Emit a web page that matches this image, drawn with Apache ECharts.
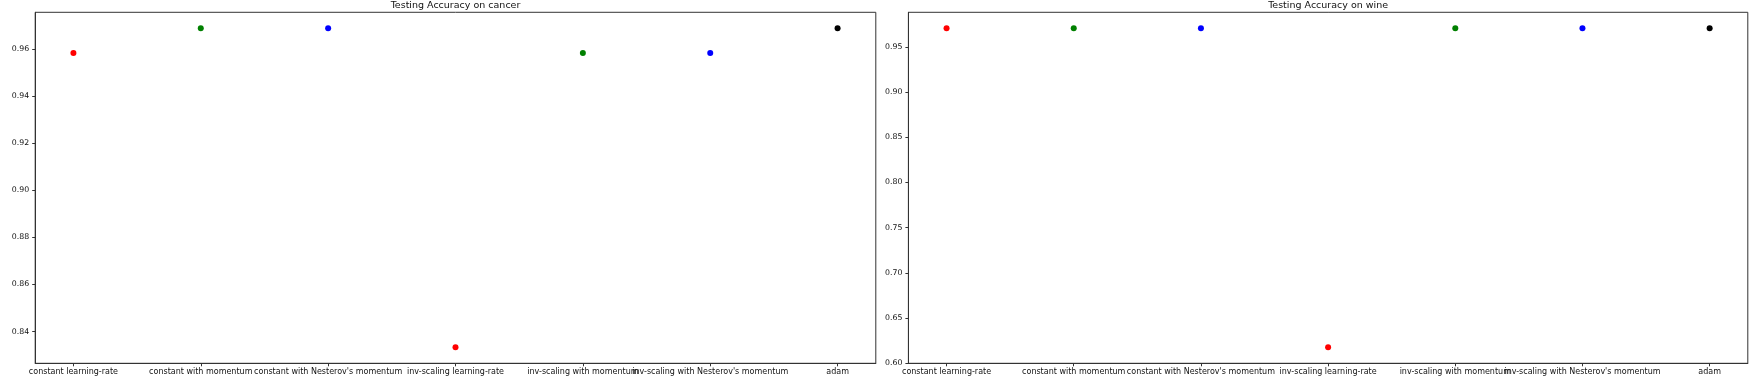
<!DOCTYPE html>
<html><head><meta charset="utf-8">
<script src="https://cdn.jsdelivr.net/npm/echarts@6/dist/echarts.min.js"></script>
<style>html,body{margin:0;padding:0;background:#fff}#c{width:1752px;height:390px}</style>
</head><body><div id="c"></div>
<script>
const categories = ["constant learning-rate", "constant with momentum", "constant with Nesterov's momentum", "inv-scaling learning-rate", "inv-scaling with momentum", "inv-scaling with Nesterov's momentum", "adam"];
const cancerAccuracy = [0.9583, 0.9688, 0.9688, 0.8333, 0.9583, 0.9583, 0.9688];
const wineAccuracy = [0.9706, 0.9706, 0.9706, 0.6176, 0.9706, 0.9706, 0.9706];
const markerColors = ['#ff0000', '#008000', '#0000ff', '#ff0000', '#008000', '#0000ff', '#000000'];
const cancerTicks = [0.84, 0.86, 0.88, 0.90, 0.92, 0.94, 0.96];
const wineTicks = [0.60, 0.65, 0.70, 0.75, 0.80, 0.85, 0.90, 0.95];
const titles = ['Testing Accuracy on cancer', 'Testing Accuracy on wine'];

const FONT = 'DejaVu Sans';
const spine = '#333';
function lims(arr) {
  const mn = Math.min(...arr), mx = Math.max(...arr), r = mx - mn;
  return [mn - 0.05 * r, mx + 0.05 * r];
}
const xIdx = categories.map((_, i) => i);
const xl = lims(xIdx);
const grids = [
  {left: 35.2, top: 12.3, width: 840.6, height: 351},
  {left: 908.4, top: 12.3, width: 839.4, height: 351}
];
const datasets = [cancerAccuracy, wineAccuracy];
const ticks = [cancerTicks, wineTicks];

const option = {
  animation: false,
  backgroundColor: '#fff',
  grid: grids.map(g => Object.assign({show: true, borderColor: spine, borderWidth: 1, backgroundColor: 'transparent'}, g)),
  xAxis: grids.map((g, k) => ({
    type: 'value', gridIndex: k, min: xl[0], max: xl[1],
    axisLine: {show: true, onZero: false, lineStyle: {color: spine, width: 1}},
    axisTick: {show: true, length: 3, customValues: xIdx, lineStyle: {color: spine}},
    axisLabel: {customValues: xIdx, margin: 5, color: '#111', fontFamily: FONT, fontSize: 8,
      formatter: v => categories[Math.round(v)] ?? ''},
    splitLine: {show: false}
  })),
  yAxis: grids.map((g, k) => {
    const l = lims(datasets[k]);
    return {
      type: 'value', gridIndex: k, min: l[0], max: l[1],
      axisLine: {show: true, onZero: false, lineStyle: {color: spine, width: 1}},
      axisTick: {show: true, length: 3, customValues: ticks[k], lineStyle: {color: spine}},
      axisLabel: {customValues: ticks[k], margin: 6, color: '#111', fontFamily: FONT, fontSize: 7.8,
        formatter: v => v.toFixed(2)},
      splitLine: {show: false}
    };
  }),
  graphic: titles.map((t, k) => ({
    type: 'text', x: grids[k].left + grids[k].width / 2, y: 5.5,
    style: {text: t, fontFamily: FONT, fontSize: 9.5, fill: '#111', align: 'center', verticalAlign: 'middle'}
  })),
  series: datasets.map((d, k) => ({
    type: 'scatter', xAxisIndex: k, yAxisIndex: k, symbolSize: 6,
    data: d.map((v, i) => ({value: [i, v], itemStyle: {color: markerColors[i], opacity: 1}}))
  }))
};
const chart = echarts.init(document.getElementById('c'), null, {renderer: 'canvas'});
chart.setOption(option);
</script></body></html>
